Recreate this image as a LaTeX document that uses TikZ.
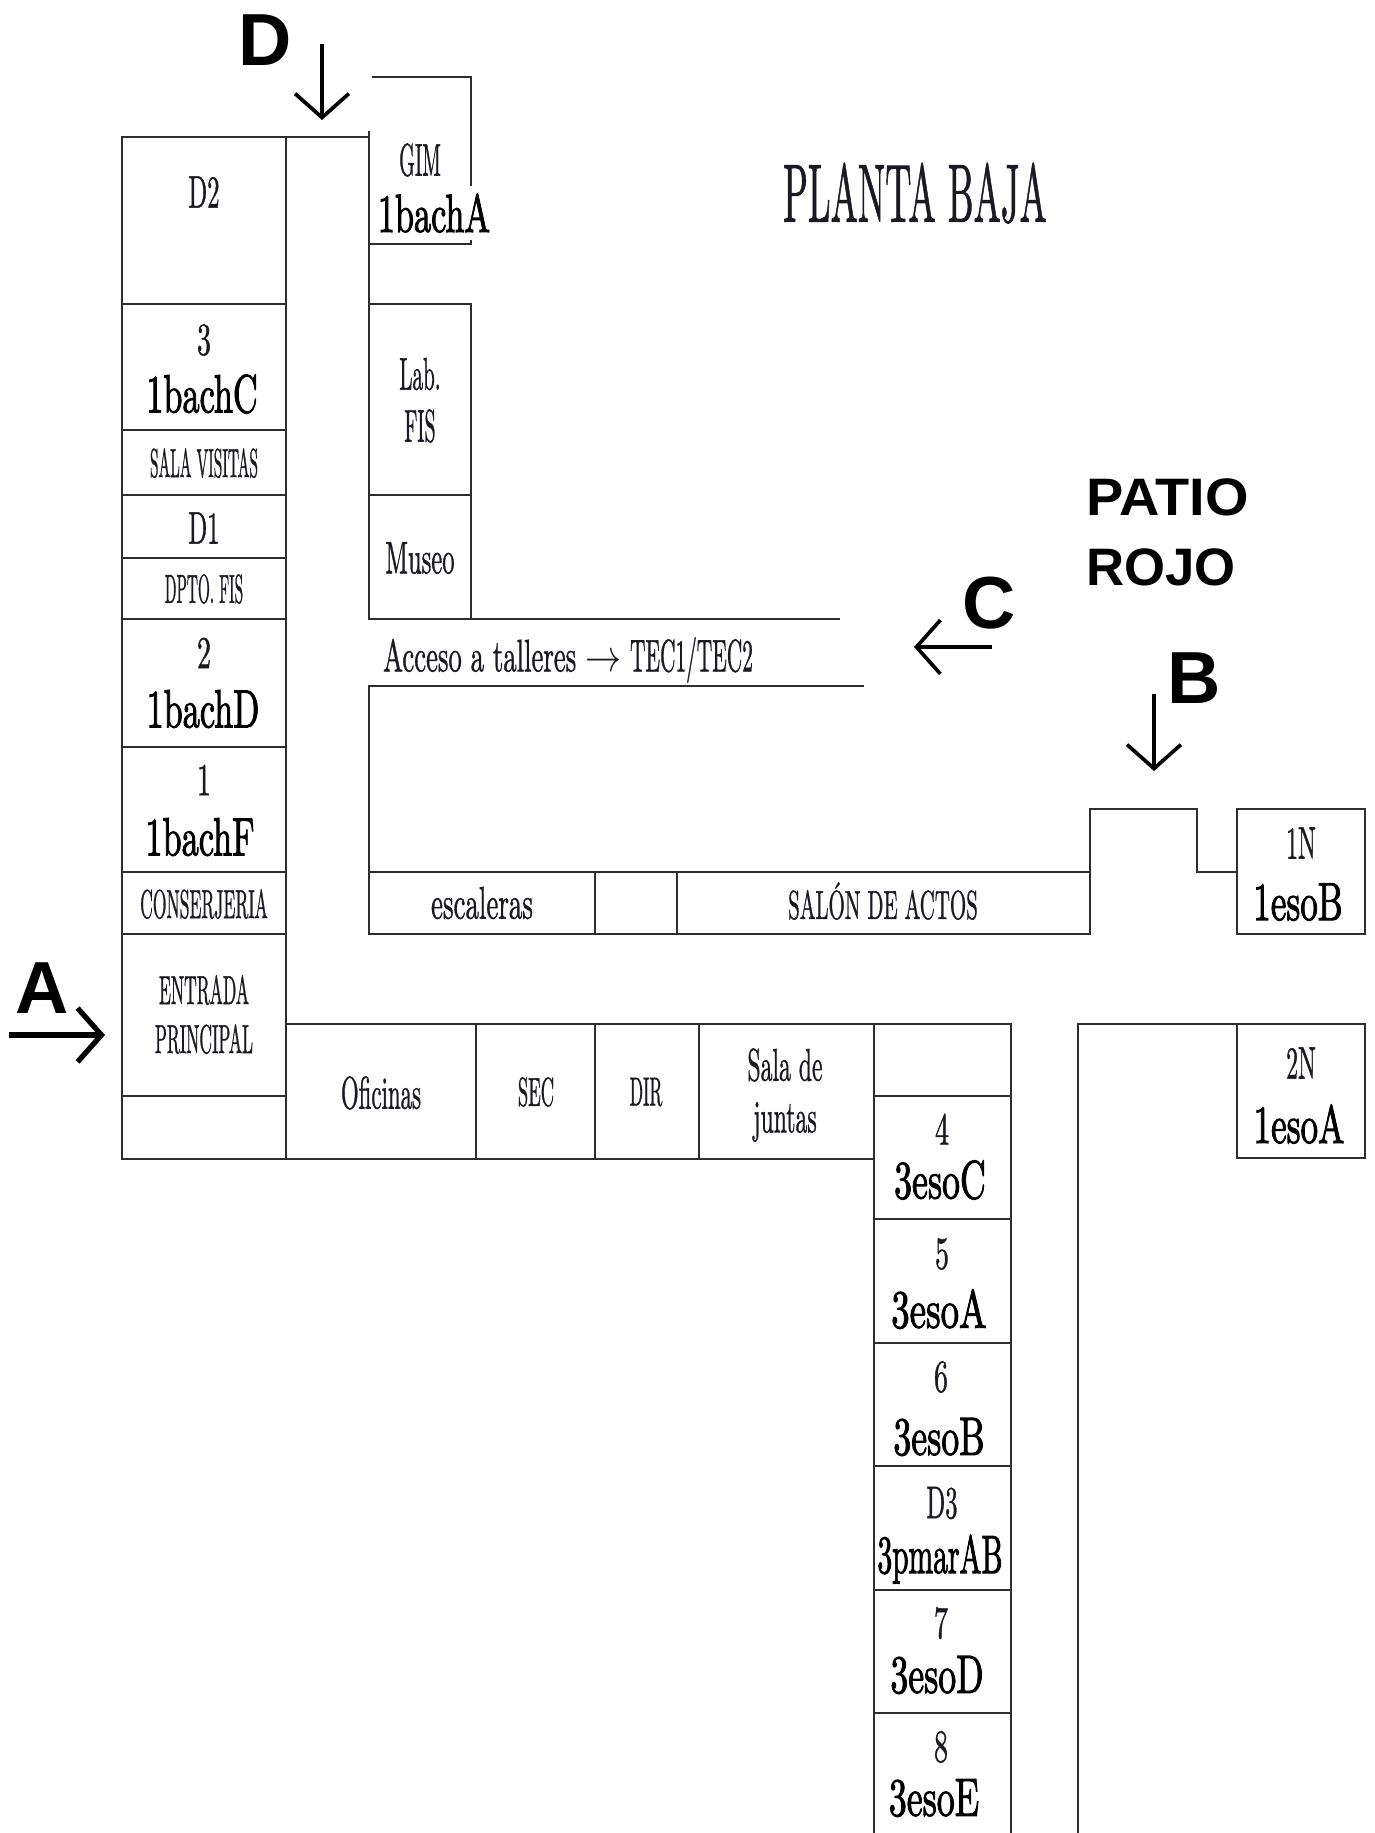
\documentclass[tikz,border=0pt]{standalone}
\usepackage{fontspec}
\usetikzlibrary{arrows.meta}
\newfontfamily\zonefont{Liberation Sans}
\newfontfamily\roomfont[FakeBold=1.2]{Latin Modern Roman}
\newfontfamily\groupfont[FakeBold=2.2]{Latin Modern Roman}

\definecolor{wallgray}{HTML}{2E2E2E}
\definecolor{roomink}{HTML}{1A1A24}

\tikzset{
	wall/.style={wallgray, line width=1.1pt},
	roomtext/.style={font=\roomfont, text=roomink, inner sep=0pt, yscale=2.6, xscale=#1},
	roomtext/.default=1.3,
	captext/.style={font=\roomfont, text=roomink, inner sep=0pt, yscale=2.3, xscale=#1},
	captext/.default=1,
	grouptext/.style={font=\groupfont, text=black, inner sep=0pt, yscale=3.06, xscale=#1},
	grouptext/.default=1.95,
	zonetext/.style={font=\zonefont\bfseries\fontsize{30}{36}\selectfont, inner sep=0pt, anchor=west},
	doortext/.style={font=\zonefont\bfseries\fontsize{42}{50}\selectfont, inner sep=0pt},
	doorarrow/.style={black, line width=#1, -{Straight Barb[length=24*0.567pt, width=54*0.567pt, line width=#1]}},
	doorarrow/.default=2.1pt
}

\begin{document}
\begin{tikzpicture}[x=0.02cm, y=-0.02cm]
	\useasboundingbox (0,0) rectangle (1375,1833);

	% left wing
	\draw [wall] (122,137) rectangle (286,304);
	\draw [wall] (122,304) rectangle (286,430);
	\draw [wall] (122,430) rectangle (286,495);
	\draw [wall] (122,495) rectangle (286,558);
	\draw [wall] (122,558) rectangle (286,619);
	\draw [wall] (122,619) rectangle (286,747);
	\draw [wall] (122,747) rectangle (286,872);
	\draw [wall] (122,872) rectangle (286,934);
	\draw [wall] (122,934) rectangle (286,1096);
	\draw [wall] (122,1096) rectangle (286,1159);
	\draw [wall] (286,137) -- (369,137);

	% gym, lab and corridor
	\draw [wall] (369,131) -- (369,304);
	\draw [wall] (372,77) -- (471,77) -- (471,244) -- (369,244);
	\draw [wall] (369,304) rectangle (471,495);
	\draw [wall] (369,495) rectangle (471,619);
	\draw [wall] (471,619) -- (840,619);
	\draw [wall] (864,686) -- (369,686) -- (369,872);
	\draw [wall] (369,872) rectangle (595,934);
	\draw [wall] (595,872) rectangle (677,934);
	\draw [wall] (677,872) rectangle (1090,934);
	\draw [wall] (1090,872) -- (1090,809) -- (1197,809) -- (1197,872) -- (1237,872);
	\draw [wall] (1237,809) rectangle (1365,934);

	% offices
	\draw [wall] (286,1024) rectangle (476,1159);
	\draw [wall] (476,1024) rectangle (595,1159);
	\draw [wall] (595,1024) rectangle (699,1159);
	\draw [wall] (699,1024) rectangle (874,1159);

	% classrooms
	\draw [wall] (874,1024) rectangle (1011,1096);
	\draw [wall] (874,1096) rectangle (1011,1219);
	\draw [wall] (874,1219) rectangle (1011,1343);
	\draw [wall] (874,1343) rectangle (1011,1466);
	\draw [wall] (874,1466) rectangle (1011,1590);
	\draw [wall] (874,1590) rectangle (1011,1713);
	\draw [wall] (874,1833) -- (874,1713) -- (1011,1713) -- (1011,1833);
	\draw [wall] (1078,1833) -- (1078,1024) -- (1237,1024);
	\draw [wall] (1237,1024) rectangle (1365,1158);

	% room names
	\draw (204,192) node[roomtext=1.4] (d2) {D2};
	\draw (204,340) node[roomtext=1.6] (n3) {3};
	\draw (202,394) node[grouptext] (bachc) {1bachC};
	\draw (204,463) node[captext=.88] (visitas) {SALA VISITAS};
	\draw (204,528) node[roomtext=1.4] (d1) {D1};
	\draw (204,589) node[captext=.87] (dptofis) {DPTO. FIS};
	\draw (204,653) node[roomtext=1.6] (n2) {2};
	\draw (203,709) node[grouptext] (bachd) {1bachD};
	\draw (204,780) node[roomtext=1.6] (n1) {1};
	\draw (200,837) node[grouptext] (bachf) {1bachF};
	\draw (204,904) node[captext] (conserjeria) {CONSERJERIA};
	\draw (204,990) node[captext] (entrada) {ENTRADA};
	\draw (204,1039) node[captext] (principal) {PRINCIPAL};
	\draw (420,160) node[roomtext=1.15] (gim) {GIM};
	\draw (434,213) node[grouptext, fill=white, inner ysep=1.3pt] (bacha) {1bachA};
	\draw (420,374) node[roomtext=1.2] (lab) {Lab.};
	\draw (420,426) node[roomtext=1.13] (fis) {FIS};
	\draw (420,558) node[roomtext=1.4] (museo) {Museo};
	\draw (568,660) node[roomtext=1.52] (talleres) {Acceso a talleres \scalebox{1.35}[1]{$\rightarrow$} \scalebox{.8}[1]{TEC1/TEC2}};
	\draw (482,903) node[roomtext=1.53] (escaleras) {escaleras};
	\draw (883,901) node[captext=1.19] (salon) {SALÓN DE ACTOS};
	\draw (1301,843) node[roomtext=1.35] (unon) {1N};
	\draw (1298,902) node[grouptext=2] (esob) {1esoB};
	\draw (1301,1063) node[roomtext=1.35] (dosn) {2N};
	\draw (1299,1124) node[grouptext=2] (esoa) {1esoA};
	\draw (381,1093) node[roomtext=1.3] (oficinas) {Oficinas};
	\draw (536,1092) node[captext=1.05] (sec) {SEC};
	\draw (646,1092) node[captext] (dir) {DIR};
	\draw (785,1065) node[roomtext=1.35] (sala) {Sala de};
	\draw (785,1122) node[roomtext=1.35] (juntas) {juntas};

	% third year rooms
	\draw (942,1129) node[roomtext=1.6] (n4) {4};
	\draw (940,1180) node[grouptext=2.04] (tresc) {3esoC};
	\draw (942,1254) node[roomtext=1.6] (n5) {5};
	\draw (939,1309) node[grouptext=2.1] (tresa) {3esoA};
	\draw (941,1377) node[roomtext=1.6] (n6) {6};
	\draw (939,1437) node[grouptext=2.04] (tresb) {3esoB};
	\draw (942,1503) node[roomtext=1.4] (d3) {D3};
	\draw (940,1559) node[grouptext=1.68] (pmar) {3pmarAB};
	\draw (941,1623) node[roomtext=1.6] (n7) {7};
	\draw (937,1675) node[grouptext=2.04] (tresd) {3esoD};
	\draw (941,1747) node[roomtext=1.6] (n8) {8};
	\draw (934,1798) node[grouptext=2.04] (trese) {3esoE};

	% titles and entrances
	\draw (915,193) node[font=\roomfont, inner sep=0pt, text=roomink, xscale=2.07, yscale=4.7] (planta) {PLANTA BAJA};
	\draw (1086,497) node[zonetext, xscale=1.06] (patio) {PATIO};
	\draw (1086,567) node[zonetext] (rojo) {ROJO};
	\draw (42,988) node[doortext] (doora) {A};
	\draw (1194,678) node[doortext] (doorb) {B};
	\draw (989,603) node[doortext] (doorc) {C};
	\draw (265,40) node[doortext] (doord) {D};

	\coordinate (afrom) at (9,1035);
	\coordinate (ato) at (105,1035);
	\coordinate (bfrom) at (1154,694);
	\coordinate (bto) at (1154,771);
	\coordinate (cfrom) at (992,647);
	\coordinate (cto) at (914,647);
	\coordinate (dfrom) at (322,44);
	\coordinate (dto) at (322,120);
	\draw [doorarrow=3pt] (afrom) -- (ato);
	\draw [doorarrow] (bfrom) -- (bto);
	\draw [doorarrow] (cfrom) -- (cto);
	\draw [doorarrow] (dfrom) -- (dto);
\end{tikzpicture}
\end{document}
